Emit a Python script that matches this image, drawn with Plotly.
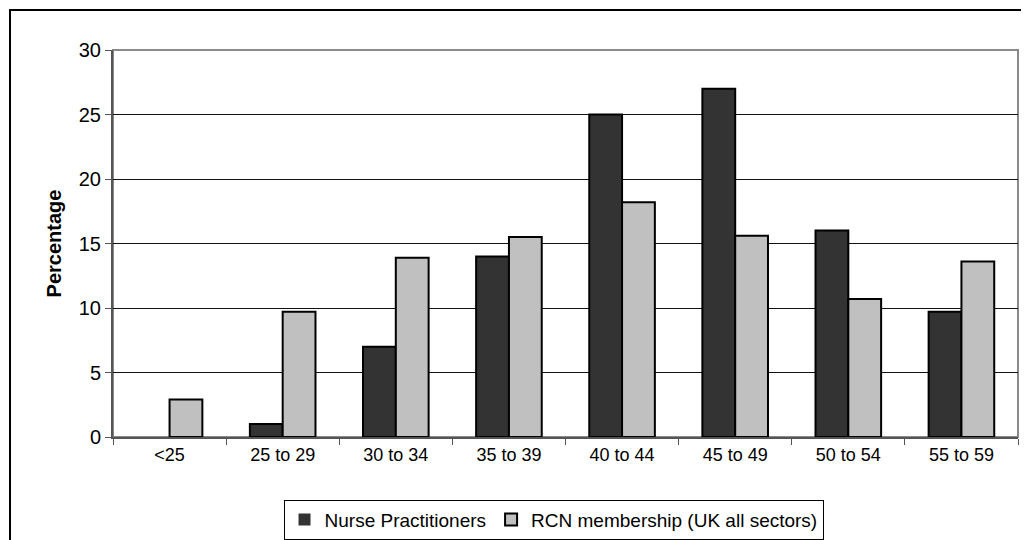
import plotly.graph_objects as go

age_groups = ["<25", "25 to 29", "30 to 34", "35 to 39", "40 to 44", "45 to 49", "50 to 54", "55 to 59"]
nurse_practitioners = [0, 1, 7, 14, 25, 27, 16, 9.7]
rcn_membership = [2.9, 9.7, 13.9, 15.5, 18.2, 15.6, 10.7, 13.6]

FONT = "Liberation Sans, Arial, sans-serif"


def outline_widths(values):
    # no outline on empty bars, as in the original
    return [0 if v == 0 else 2 for v in values]


fig = go.Figure()
fig.add_trace(go.Bar(x=age_groups, y=nurse_practitioners, name="Nurse Practitioners",
                     marker=dict(color="#333333",
                                 line=dict(color="#000000", width=outline_widths(nurse_practitioners)))))
fig.add_trace(go.Bar(x=age_groups, y=rcn_membership, name="RCN membership (UK all sectors)",
                     marker=dict(color="#c0c0c0",
                                 line=dict(color="#000000", width=outline_widths(rcn_membership)))))

# plot area border (grey) and outer chart border (black)
fig.add_shape(type="rect", xref="paper", yref="paper", x0=0, x1=1, y0=0, y1=1,
              line=dict(color="#8a8a8a", width=2), layer="below")
fig.add_shape(type="rect", xref="paper", yref="paper", x0=-0.1138, x1=1.3, y0=-0.6, y1=1.1034,
              line=dict(color="#000000", width=2))

# the page body adds an 8px offset, so the figure is sized to fit the window
fig.update_layout(
    width=1021, height=532,
    margin=dict(l=105, r=11, t=42, b=103, autoexpand=False),
    paper_bgcolor="white", plot_bgcolor="white",
    font=dict(family=FONT, size=18, color="#000000"),
    barmode="group", bargap=0.42, bargroupgap=0,
    showlegend=True,
    legend=dict(orientation="h", xref="container", yref="container",
                x=0.5343, xanchor="center", y=0.076, yanchor="top",
                bordercolor="#000000", borderwidth=1, font=dict(size=19),
                itemwidth=30, tracegroupgap=0),
)
fig.update_xaxes(type="category", showgrid=False, showline=True, linecolor="#555555", linewidth=2,
                 ticks="outside", tickson="boundaries", ticklen=6, tickcolor="#555555",
                 tickfont=dict(size=18), automargin=False)
fig.update_yaxes(range=[0, 30], dtick=5, showgrid=True, gridcolor="#111111", gridwidth=1,
                 showline=True, linecolor="#555555", linewidth=2, zeroline=False,
                 ticks="outside", ticklen=6, tickcolor="#555555", tickfont=dict(size=20),
                 title=dict(text="<b>Percentage</b>", font=dict(size=20), standoff=12),
                 automargin=False)

fig.write_html("out.html")
